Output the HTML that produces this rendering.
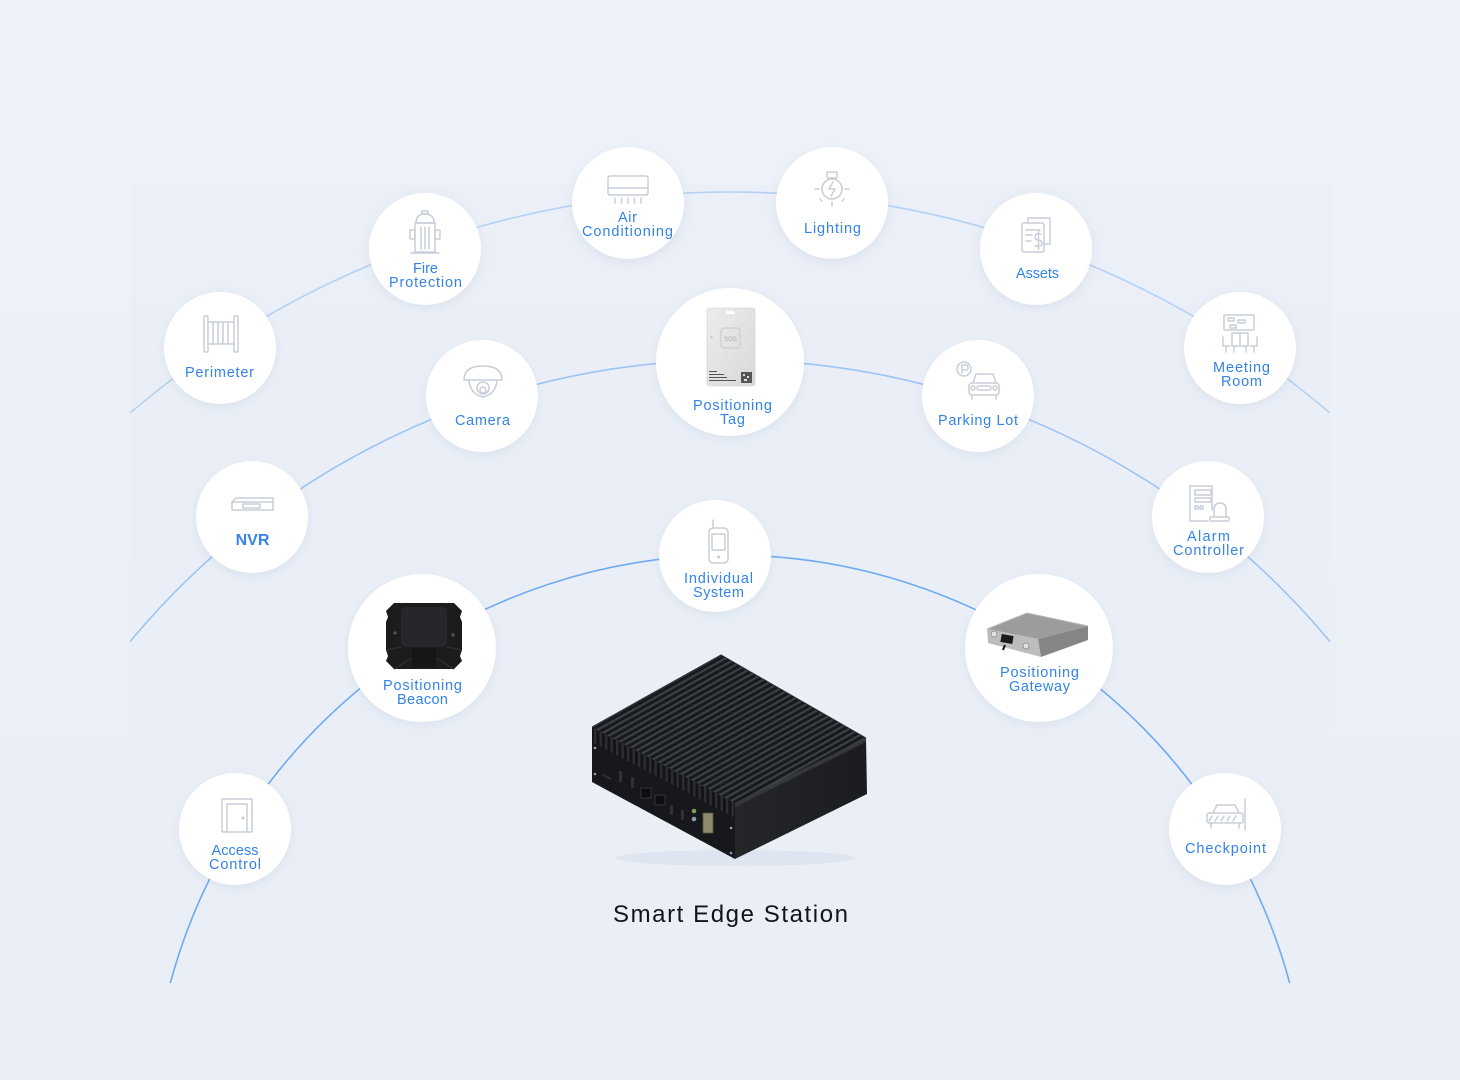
<!DOCTYPE html>
<html><head><meta charset="utf-8">
<style>
html,body{margin:0;padding:0;background:#ecf1f8;width:1460px;height:1080px;overflow:hidden;}
svg{display:block;}
.lb{font-family:"Liberation Sans",sans-serif;font-size:14.5px;fill:#3483e6;text-anchor:middle;}
.ic{fill:none;stroke:#c9cdd8;stroke-width:1.5;stroke-linecap:round;stroke-linejoin:round;}
</style></head>
<body>
<svg width="1460" height="1080" viewBox="0 0 1460 1080" xmlns="http://www.w3.org/2000/svg">
<defs>
  <linearGradient id="bg" x1="0" y1="0" x2="0" y2="1">
    <stop offset="0" stop-color="#eef2f9"/><stop offset="1" stop-color="#e9eef6"/>
  </linearGradient>
  <filter id="sh" x="-40%" y="-40%" width="180%" height="180%">
    <feDropShadow dx="0" dy="3" stdDeviation="5" flood-color="#6f88aa" flood-opacity="0.13"/>
  </filter>
  <pattern id="fins" patternUnits="userSpaceOnUse" width="12" height="5.3" patternTransform="rotate(-29.2)">
    <rect x="0" y="0" width="12" height="5.3" fill="#17191c"/>
    <rect x="0" y="0" width="12" height="2.2" fill="#3c4047"/>
  </pattern>
  <pattern id="teeth" patternUnits="userSpaceOnUse" width="5.5" height="20" patternTransform="skewY(28)">
    <rect x="0" y="0" width="5.5" height="20" fill="#131518"/>
    <rect x="0" y="0" width="2.4" height="20" fill="#2b2e33"/>
  </pattern>
  <linearGradient id="rf" x1="0" y1="0" x2="1" y2="0">
    <stop offset="0" stop-color="#24262a"/><stop offset="1" stop-color="#1a1c1f"/>
  </linearGradient>
  <linearGradient id="tag" x1="0" y1="0" x2="1" y2="1">
    <stop offset="0" stop-color="#ececec"/><stop offset="1" stop-color="#d9d9d9"/>
  </linearGradient>
</defs>

<rect x="0" y="0" width="1460" height="1080" fill="url(#bg)"/>
<rect x="130" y="185" width="1200" height="798" fill="#eaeff7" opacity="0.6"/>

<!-- arcs -->
<g fill="none" stroke-width="1.6">
  <path d="M130,413 A925,925 0 0,1 1330,413" stroke="#b4d1f4"/>
  <path d="M130,641.6 A780,780 0 0,1 1330,641.6" stroke="#9dc4f3"/>
  <path d="M170.3,983 A580,580 0 0,1 1289.7,983" stroke="#6eabf0"/>
</g>

<!-- node circles -->
<g fill="#ffffff" filter="url(#sh)">
  <circle cx="220" cy="348" r="56"/>
  <circle cx="425" cy="249" r="56"/>
  <circle cx="628" cy="203" r="56"/>
  <circle cx="832" cy="203" r="56"/>
  <circle cx="1036" cy="249" r="56"/>
  <circle cx="1240" cy="348" r="56"/>
  <circle cx="482" cy="396" r="56"/>
  <circle cx="730" cy="362" r="74"/>
  <circle cx="978" cy="396" r="56"/>
  <circle cx="252" cy="517" r="56"/>
  <circle cx="1208" cy="517" r="56"/>
  <circle cx="715" cy="556" r="56"/>
  <circle cx="422" cy="648" r="74"/>
  <circle cx="1039" cy="648" r="74"/>
  <circle cx="235" cy="829" r="56"/>
  <circle cx="1225" cy="829" r="56"/>
</g>

<!-- icons -->
<g class="ic">
  <!-- Perimeter fence -->
  <rect x="204" y="316" width="4" height="36" rx="1"/>
  <rect x="234" y="316" width="4" height="36" rx="1"/>
  <line x1="208" y1="322" x2="234" y2="322"/>
  <line x1="208" y1="344" x2="234" y2="344"/>
  <line x1="213" y1="322" x2="213" y2="344"/>
  <line x1="218" y1="322" x2="218" y2="344"/>
  <line x1="223" y1="322" x2="223" y2="344"/>
  <line x1="228" y1="322" x2="228" y2="344"/>

  <!-- Fire hydrant -->
  <path d="M416,223 Q416,214 425,214 Q434,214 434,223 Z"/>
  <rect x="422" y="211" width="6" height="3"/>
  <rect x="415" y="223" width="20" height="29"/>
  <rect x="410" y="230" width="5" height="9" rx="1"/>
  <rect x="435" y="230" width="5" height="9" rx="1"/>
  <line x1="421" y1="227" x2="421" y2="249"/>
  <line x1="425" y1="227" x2="425" y2="249"/>
  <line x1="429" y1="227" x2="429" y2="249"/>
  <line x1="411" y1="253" x2="439" y2="253"/>

  <!-- Air conditioner -->
  <rect x="608" y="176" width="40" height="19" rx="2"/>
  <line x1="608" y1="188" x2="648" y2="188"/>
  <line x1="615" y1="198" x2="615" y2="203"/>
  <line x1="621.5" y1="198" x2="621.5" y2="203"/>
  <line x1="628" y1="198" x2="628" y2="203"/>
  <line x1="634.5" y1="198" x2="634.5" y2="203"/>
  <line x1="641" y1="198" x2="641" y2="203"/>

  <!-- Lighting -->
  <circle cx="832" cy="189" r="10"/>
  <rect x="827" y="172" width="10" height="6" rx="1"/>
  <path d="M833,182 L829,189 L835,189 L831,196"/>
  <line x1="815" y1="189" x2="819" y2="189"/>
  <line x1="845" y1="189" x2="849" y2="189"/>
  <line x1="820" y1="199" x2="822" y2="201"/>
  <line x1="844" y1="199" x2="842" y2="201"/>
  <line x1="832" y1="202" x2="832" y2="206"/>

  <!-- Assets -->
  <path d="M1028,222 L1028,218 L1050,218 L1050,244 L1044,244"/>
  <rect x="1022" y="223" width="22" height="29" rx="2"/>
  <line x1="1026" y1="230" x2="1040" y2="230"/>
  <line x1="1026" y1="235" x2="1032" y2="235"/>
  <line x1="1026" y1="241" x2="1031" y2="241"/>
  <path d="M1041,234 Q1035,233 1035,237 Q1035,240 1038,240 Q1042,240 1042,244 Q1041,247 1035,246"/>
  <line x1="1038.5" y1="231" x2="1038.5" y2="249"/>

  <!-- Meeting room -->
  <rect x="1224" y="315" width="30" height="15" rx="1"/>
  <rect x="1228" y="318" width="6" height="3"/>
  <rect x="1238" y="320" width="7" height="3"/>
  <rect x="1230" y="325" width="6" height="3"/>
  <path d="M1232,333 L1232,346 M1248,333 L1248,346 M1232,333 L1248,333 M1240,333 L1240,346 M1232,346 L1248,346"/>
  <path d="M1223,337 L1223,346 L1230,346 M1257,337 L1257,346 L1250,346"/>
  <line x1="1226" y1="346" x2="1226" y2="352"/>
  <line x1="1234" y1="346" x2="1234" y2="352"/>
  <line x1="1246" y1="346" x2="1246" y2="352"/>
  <line x1="1254" y1="346" x2="1254" y2="352"/>

  <!-- Camera -->
  <path d="M464,380 Q464,366 483,366 Q502,366 502,380 Z"/>
  <path d="M469,380 Q470,394 483,397 Q496,394 497,380"/>
  <circle cx="483" cy="388" r="6"/>
  <circle cx="483" cy="390" r="3"/>

  <!-- Parking lot -->
  <circle cx="964" cy="369" r="7"/>
  <path d="M962,373 L962,365 L966,365 Q968,365 968,368 Q968,370 966,370 L962,370"/>
  <path d="M973,383 L976,374 L993,374 L996,383"/>
  <rect x="969" y="383" width="30" height="12" rx="3"/>
  <rect x="977" y="386" width="14" height="4" rx="2"/>
  <circle cx="973" cy="388" r="2"/>
  <circle cx="995" cy="388" r="2"/>
  <line x1="972" y1="395" x2="972" y2="399"/>
  <line x1="996" y1="395" x2="996" y2="399"/>

  <!-- NVR -->
  <path d="M232,510 L232,502 L236,498 L273,498 L273,510 Z"/>
  <line x1="232" y1="502" x2="273" y2="502"/>
  <rect x="243" y="504" width="17" height="4"/>

  <!-- Alarm controller -->
  <path d="M1212,510 L1212,486 L1190,486 L1190,521 L1208,521"/>
  <rect x="1195" y="490" width="16" height="5"/>
  <rect x="1195" y="498" width="16" height="4"/>
  <rect x="1195" y="506" width="3" height="3"/>
  <rect x="1200" y="506" width="3" height="3"/>
  <path d="M1214,517 L1214,510 Q1214,503 1220,503 Q1226,503 1226,510 L1226,517"/>
  <rect x="1210" y="517" width="19" height="4" rx="1"/>

  <!-- Individual system (walkie-talkie) -->
  <line x1="713" y1="520" x2="713" y2="528"/>
  <rect x="709" y="528" width="19" height="35" rx="4"/>
  <rect x="712" y="534" width="13" height="16" rx="1"/>
  <circle cx="718.5" cy="557" r="0.8"/>

  <!-- Access control door -->
  <rect x="222" y="799" width="30" height="33" rx="1"/>
  <path d="M227,832 L227,804 L247,804 L247,832"/>
  <circle cx="243" cy="818" r="0.8"/>

  <!-- Checkpoint -->
  <path d="M1213,813 L1217,805 L1235,805 L1239,813"/>
  <rect x="1207" y="813" width="36" height="10" rx="2"/>
  <path d="M1212,816 L1209,821 M1218,816 L1215,821 M1224,816 L1221,821 M1230,816 L1227,821 M1236,816 L1233,821"/>
  <line x1="1211" y1="823" x2="1211" y2="828"/>
  <line x1="1239" y1="823" x2="1239" y2="828"/>
  <line x1="1245" y1="799" x2="1245" y2="830"/>
</g>

<!-- Positioning tag card -->
<g>
  <rect x="707" y="308" width="48" height="78" rx="3" fill="url(#tag)" stroke="#cfcfcf" stroke-width="0.6"/>
  <rect x="726" y="311" width="9" height="3" rx="1.5" fill="#ffffff"/>
  <rect x="721" y="328" width="19" height="20" rx="3" fill="none" stroke="#c8c8c8" stroke-width="1"/>
  <text x="730.5" y="341" font-family="Liberation Sans, sans-serif" font-size="6" fill="#a8a8a8" text-anchor="middle">SOS</text>
  <circle cx="711.5" cy="337" r="1.2" fill="#c6c6c6"/>
  <g fill="#555">
    <rect x="709" y="371" width="8" height="1"/>
    <rect x="709" y="374" width="15" height="1"/>
    <rect x="709" y="377" width="18" height="1"/>
    <rect x="709" y="380" width="27" height="1"/>
    <rect x="741" y="372" width="11" height="11"/>
  </g>
  <g fill="#ddd">
    <rect x="743" y="374" width="2" height="2"/><rect x="747" y="376" width="2" height="2"/><rect x="744" y="379" width="3" height="2"/>
  </g>
</g>

<!-- Positioning beacon -->
<g>
  <path d="M394,603 L454,603 L462,611 L460,617 L462,622 L462,650 L460,656 L462,661 L454,669 L394,669 L386,661 L388,656 L386,650 L386,622 L388,617 L386,611 Z" fill="#1c1c1e"/>
  <rect x="401" y="607" width="46" height="40" rx="5" fill="#26272a"/>
  <rect x="412" y="648" width="24" height="19" fill="#161618"/>
  <path d="M386,650 L401,647 M462,650 L447,647 M394,669 L412,658 M454,669 L436,658" stroke="#2c2d30" stroke-width="1.5"/>
  <circle cx="395" cy="633" r="1.6" fill="#555"/>
  <circle cx="453" cy="635" r="1.6" fill="#555"/>
</g>

<!-- Positioning gateway -->
<g>
  <polygon points="987,629 1027,613 1088,626 1038,639" fill="#9c9c9a"/>
  <polygon points="987,629 1038,639 1041,657 988,643" fill="#bdbdbb"/>
  <polygon points="1038,639 1088,626 1088,640 1041,657" fill="#858583"/>
  <polyline points="987,629 1027,613 1088,626" fill="none" stroke="#b8b8b6" stroke-width="1"/>
  <rect x="1001" y="635" width="12" height="8" fill="#1a1a1a" transform="rotate(10 1007 639)"/>
  <circle cx="994" cy="634" r="3" fill="#e0e0e0" stroke="#777" stroke-width="0.6"/>
  <circle cx="1026" cy="646" r="3" fill="#e0e0e0" stroke="#777" stroke-width="0.6"/>
  <line x1="1005" y1="645" x2="1003" y2="650" stroke="#111" stroke-width="2"/>
</g>

<!-- Smart Edge Station box -->
<g>
  <ellipse cx="735" cy="858" rx="120" ry="8" fill="#c9d3e2" opacity="0.35"/>
  <polygon points="592,727 735,803 735,859 592,782" fill="#16181b"/>
  <polygon points="592,727 735,803 735,818 592,742" fill="url(#teeth)"/>
  <polygon points="735,803 866,738 867,794 735,859" fill="url(#rf)"/>
  <polygon points="735,803 866,738 866,742 735,807" fill="#34373c"/>
  <polygon points="721,655 592,727 735,803 866,738" fill="url(#fins)"/>
  <polyline points="592,727 721,655 866,738" fill="none" stroke="#2c2f34" stroke-width="1"/>
  <g fill="#2e3136">
    <rect x="602" y="776" width="10" height="2" transform="rotate(28 607 777)"/>
    <rect x="619" y="771" width="3" height="11" rx="1"/>
    <rect x="631" y="777" width="3" height="11" rx="1"/>
    <rect x="641" y="788" width="10" height="10" fill="#0c0d0f" stroke="#3a3d42" stroke-width="0.8"/>
    <rect x="655" y="795" width="10" height="10" fill="#0c0d0f" stroke="#3a3d42" stroke-width="0.8"/>
    <rect x="670" y="805" width="3" height="10" rx="1"/>
    <rect x="681" y="810" width="3" height="10" rx="1"/>
  </g>
  <circle cx="694" cy="811" r="2.3" fill="#7aa05a"/>
  <circle cx="694" cy="819" r="2.3" fill="#8a9bb0"/>
  <rect x="703" y="813" width="10" height="20" fill="#8d8a6e" stroke="#55543f" stroke-width="0.8"/>
  <g fill="#9a9ea5">
    <circle cx="595" cy="748" r="1.3"/><circle cx="595" cy="774" r="1.3"/>
    <circle cx="731" cy="828" r="1.3"/><circle cx="731" cy="853" r="1.3"/>
  </g>
</g>

<!-- labels -->
<g class="lb">
  <text x="219.5" y="377" textLength="69">Perimeter</text>
  <text x="425.5" y="273" textLength="25">Fire</text>
  <text x="425.5" y="287" textLength="73">Protection</text>
  <text x="627.5" y="222" textLength="19">Air</text>
  <text x="627.5" y="236" textLength="91">Conditioning</text>
  <text x="832.5" y="233" textLength="57">Lighting</text>
  <text x="1037.5" y="278" textLength="43">Assets</text>
  <text x="1241.5" y="372" textLength="57">Meeting</text>
  <text x="1241.5" y="386" textLength="41">Room</text>
  <text x="482.5" y="425" textLength="55">Camera</text>
  <text x="732.5" y="410" textLength="79">Positioning</text>
  <text x="732.5" y="424" textLength="25">Tag</text>
  <text x="978" y="425" textLength="80">Parking Lot</text>
  <text x="252.5" y="545" style="font-size:16px;font-weight:bold">NVR</text>
  <text x="1208.5" y="541" textLength="43">Alarm</text>
  <text x="1208.5" y="555" textLength="71">Controller</text>
  <text x="718.5" y="583" textLength="69">Individual</text>
  <text x="718.5" y="597" textLength="51">System</text>
  <text x="422.5" y="690" textLength="79">Positioning</text>
  <text x="422.5" y="704" textLength="51">Beacon</text>
  <text x="1039.5" y="677" textLength="79">Positioning</text>
  <text x="1039.5" y="691" textLength="61">Gateway</text>
  <text x="235" y="855" textLength="47">Access</text>
  <text x="235" y="869" textLength="52">Control</text>
  <text x="1225.5" y="853" textLength="81">Checkpoint</text>
</g>

<text x="730.5" y="922" font-family="Liberation Sans, sans-serif" font-size="24" fill="#121418" text-anchor="middle" textLength="235">Smart Edge Station</text>
</svg>
</body></html>
